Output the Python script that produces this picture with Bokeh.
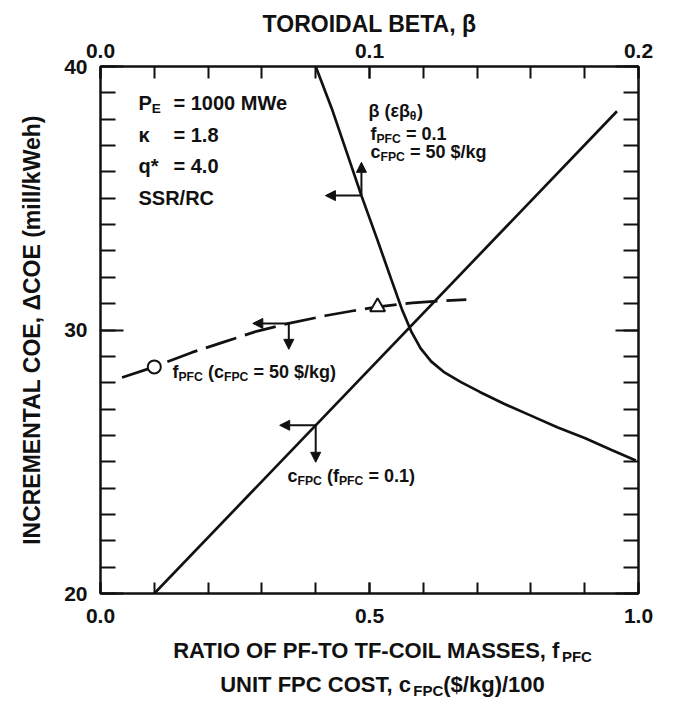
from bokeh.plotting import figure
from bokeh.layouts import column
from bokeh.models import (Range1d, LinearAxis, FixedTicker, Label, Arrow, Title,
                          NormalHead, NumeralTickFormatter)
from bokeh.embed import file_html
from bokeh.resources import INLINE

# ---- data -------------------------------------------------------------
# unit FPC cost c_FPC/100 vs incremental COE (f_PFC = 0.1)
c_fpc = [0.10, 0.96]
coe_c = [20.0, 38.3]

# PF-to-TF coil mass ratio f_PFC vs incremental COE (c_FPC = 50 $/kg)
f_pfc = [0.04, 0.10, 0.17, 0.23, 0.29, 0.35, 0.42, 0.47, 0.515, 0.58, 0.63, 0.68]
coe_f = [28.2, 28.6, 29.15, 29.55, 29.95, 30.25, 30.55, 30.73, 30.88, 31.03, 31.1, 31.15]
circle_idx = 1      # f_PFC = 0.1 reference point
triangle_idx = 8

# toroidal beta vs incremental COE
beta = [0.080, 0.086, 0.091, 0.097, 0.103, 0.108, 0.112, 0.1155, 0.119, 0.123,
        0.128, 0.134, 0.141, 0.150, 0.160, 0.170, 0.180, 0.190, 0.199]
coe_beta = [40.0, 38.4, 36.9, 35.1, 33.4, 31.95, 30.8, 29.95, 29.3, 28.8,
            28.38, 28.02, 27.65, 27.2, 26.75, 26.3, 25.9, 25.45, 25.05]

# arrow anchor indices on each curve
arrow_f_idx = 5
arrow_beta_idx = 3
arrow_c_x = 0.40

# ---- layout -----------------------------------------------------------
W, H = 673, 706
MAIN_H = 634
BOT_STRIP = H - MAIN_H
LEFT, RIGHT, TOP, BOTTOM = 100, 35, 66, 41
FW, FH = W - LEFT - RIGHT, MAIN_H - TOP - BOTTOM
X0, X1, Y0, Y1 = 0.0, 1.0, 20.0, 40.0
PXX = FW / (X1 - X0)          # pixels per x unit
PXY = FH / (Y1 - Y0)          # pixels per y unit
FONT = "Liberation Sans"
INK = "#111111"

p = figure(width=W, height=MAIN_H, x_range=Range1d(X0, X1), y_range=Range1d(Y0, Y1),
           output_backend="svg", toolbar_location=None,
           x_axis_location=None, y_axis_location=None,
           min_border_left=LEFT, min_border_right=RIGHT,
           min_border_top=TOP, min_border_bottom=BOTTOM)
p.extra_x_ranges = {"beta": Range1d(0.0, 0.2)}
p.xgrid.grid_line_color = None
p.ygrid.grid_line_color = None
p.outline_line_color = INK
p.outline_line_width = 2
p.background_fill_color = "white"
p.border_fill_color = "white"


def style_axis(ax, major_in, minor_in, standoff=12):
    ax.axis_line_color = INK
    ax.axis_line_width = 2
    ax.major_tick_in = major_in
    ax.major_tick_out = 0
    ax.minor_tick_in = minor_in
    ax.minor_tick_out = 0
    ax.major_tick_line_width = 2
    ax.minor_tick_line_width = 2
    ax.major_tick_line_color = INK
    ax.minor_tick_line_color = INK
    ax.major_label_text_font = FONT
    ax.major_label_text_font_style = "bold"
    ax.major_label_text_font_size = "21px"
    ax.major_label_text_color = INK
    ax.major_label_standoff = standoff


y_ticks = [20, 30, 40]
y_ticker = FixedTicker(ticks=y_ticks, minor_ticks=list(range(20, 41)))

left = LinearAxis(ticker=y_ticker)
style_axis(left, 23, 15, standoff=13)
left.axis_label = "INCREMENTAL COE, \u0394COE (mill/kWeh)"
left.axis_label_text_font = FONT
left.axis_label_text_font_style = "bold"
left.axis_label_text_font_size = "23px"
left.axis_label_text_color = INK
left.axis_label_standoff = 16
p.add_layout(left, "left")

right = LinearAxis(ticker=y_ticker, major_label_overrides={t: "" for t in y_ticks})
style_axis(right, 23, 15)
p.add_layout(right, "right")

bottom = LinearAxis(ticker=FixedTicker(ticks=[0.0, 0.5, 1.0],
                                       minor_ticks=[i / 10 for i in range(11)]),
                    formatter=NumeralTickFormatter(format="0.0"))
style_axis(bottom, 11, 11, standoff=15)
p.add_layout(bottom, "below")

top = LinearAxis(x_range_name="beta",
                 ticker=FixedTicker(ticks=[0.0, 0.1, 0.2],
                                    minor_ticks=[i / 50 for i in range(11)]),
                 formatter=NumeralTickFormatter(format="0.0"))
style_axis(top, 12, 12, standoff=9)
p.add_layout(top, "above")

p.add_layout(Title(text="TOROIDAL BETA, \u03b2", align="center", offset=6,
                   text_font=FONT, text_font_size="23px", text_font_style="bold",
                   text_color=INK, standoff=8), "above")

# ---- curves -----------------------------------------------------------
LW = 2.7
p.line(c_fpc, coe_c, line_color=INK, line_width=LW)
p.line(beta, coe_beta, line_color=INK, line_width=LW, x_range_name="beta")
p.line(f_pfc[:circle_idx + 1], coe_f[:circle_idx + 1], line_color=INK, line_width=LW)
p.line(f_pfc[circle_idx:], coe_f[circle_idx:], line_color=INK, line_width=LW,
       line_dash="32 9", line_dash_offset=-14)
p.scatter([f_pfc[circle_idx]], [coe_f[circle_idx]], marker="circle", size=13,
          fill_color="white", line_color=INK, line_width=2)
p.scatter([f_pfc[triangle_idx]], [coe_f[triangle_idx]], marker="triangle", size=15,
          fill_color="white", line_color=INK, line_width=2)


# ---- reading arrows ---------------------------------------------------
def arrow(x, y, dx, dy, range_name="default"):
    head = NormalHead(size=10, fill_color=INK, line_color=INK, line_width=1)
    a = Arrow(end=head, x_start=x, y_start=y, x_end=x + dx, y_end=y + dy,
              line_color=INK, line_width=2, x_range_name=range_name)
    p.add_layout(a)


ax_len = 36 / PXX
ay_len = 37 / PXY
c_y = coe_c[0] + (arrow_c_x - c_fpc[0]) * (coe_c[1] - coe_c[0]) / (c_fpc[1] - c_fpc[0])
arrow(arrow_c_x, c_y, -ax_len, 0)
arrow(arrow_c_x, c_y, 0, -ay_len)

fx, fy = f_pfc[arrow_f_idx], coe_f[arrow_f_idx]
arrow(fx, fy, -ax_len, 0)
arrow(fx, fy, 0, -ay_len * 0.7)

bx, by = beta[arrow_beta_idx], coe_beta[arrow_beta_idx]
arrow(bx, by, -ax_len * 0.2, 0, "beta")
arrow(bx, by, 0, ay_len * 0.9, "beta")

# ---- text with subscripts --------------------------------------------
WID = {
    " ": 278, "!": 333, "$": 556, "(": 333, ")": 333, "*": 389, ",": 278,
    "-": 333, ".": 278, "/": 278, "=": 584,
    "A": 722, "B": 722, "C": 722, "D": 722, "E": 667, "F": 611, "G": 778,
    "H": 722, "I": 278, "J": 556, "K": 722, "L": 611, "M": 833, "N": 722,
    "O": 778, "P": 667, "Q": 778, "R": 722, "S": 667, "T": 611, "U": 722,
    "V": 667, "W": 944, "X": 667, "Y": 667, "Z": 611,
    "a": 556, "b": 611, "c": 556, "d": 611, "e": 556, "f": 333, "g": 611,
    "h": 611, "i": 278, "j": 278, "k": 556, "l": 278, "m": 889, "n": 611,
    "o": 611, "p": 611, "q": 611, "r": 389, "s": 556, "t": 333, "u": 611,
    "v": 556, "w": 778, "x": 556, "y": 556, "z": 500,
    "\u03b2": 600, "\u03b5": 480, "\u03b8": 600, "\u03ba": 560, "\u0394": 700,
}
BASE_LIFT = 0.36   # raise runs so the drawn baseline lands on the requested one


def tw(s, size):
    return sum(WID.get(ch, 556) for ch in s) / 1000.0 * size


def rich(fig, x, y, parts, size, sx=1.0, sy=1.0, align="left"):
    """Line of text from (text, kind) runs; kind 'n' normal, 's' subscript.
    sx, sy: pixels per data unit of the target figure (sy < 0 if y grows downward)."""
    sub = 0.68
    sizes = [size if k == "n" else size * sub for _, k in parts]
    widths = [tw(t, s) for (t, _), s in zip(parts, sizes)]
    total = sum(widths)
    cur = x - (total / 2 / sx if align == "center" else 0)
    for (t, k), s, w in zip(parts, sizes, widths):
        lead = len(t) - len(t.lstrip(" "))
        txt = t.strip(" ")
        dy = BASE_LIFT * size + (0 if k == "n" else -0.28 * size)
        if txt:
            fig.add_layout(Label(x=cur + tw(" " * lead, s) / sx, y=y + dy / sy,
                                 text=txt, text_font=FONT, text_font_size=f"{s:.1f}px",
                                 text_font_style="bold", text_color=INK,
                                 text_baseline="alphabetic", text_align="left"))
        cur += w / sx


def px_x(px):
    return X0 + (px - LEFT) / PXX


def px_y(py):
    # py measured from the top of the page
    return Y1 - (py - TOP) / PXY


def main_text(px, py, parts, size):
    rich(p, px_x(px), px_y(py), parts, size, sx=PXX, sy=PXY)


# parameter block
S1 = 20
main_text(138, 110, [("P", "n"), ("E", "s")], S1)
main_text(138, 142, [("\u03ba", "n")], S1)
main_text(138, 173, [("q*", "n")], S1)
main_text(138, 205, [("SSR/RC", "n")], S1)
main_text(173, 110, [("= 1000 MWe", "n")], S1)
main_text(173, 142, [("= 1.8", "n")], S1)
main_text(173, 173, [("= 4.0", "n")], S1)

# beta curve note
S2 = 18
main_text(368, 117, [("\u03b2 (\u03b5\u03b2", "n"), ("\u03b8", "s"), (")", "n")], S2)
main_text(370, 140, [("f", "n"), ("PFC", "s"), (" = 0.1", "n")], S2)
main_text(370, 158, [("c", "n"), ("FPC", "s"), (" = 50 $/kg", "n")], S2)

# curve labels
main_text(172, 378, [("f", "n"), ("PFC", "s"), (" (c", "n"), ("FPC", "s"),
                     (" = 50 $/kg)", "n")], S2)
main_text(287, 482, [("c", "n"), ("FPC", "s"), (" (f", "n"), ("PFC", "s"),
                     (" = 0.1)", "n")], S2)

# ---- two-line x title in a strip under the chart ---------------------
strip = figure(width=W, height=BOT_STRIP,
               x_range=Range1d(LEFT, W - RIGHT), y_range=Range1d(H, MAIN_H),
               output_backend="svg", toolbar_location=None,
               x_axis_location=None, y_axis_location=None,
               min_border_left=LEFT, min_border_right=RIGHT,
               min_border_top=0, min_border_bottom=0)
strip.xgrid.grid_line_color = None
strip.ygrid.grid_line_color = None
strip.outline_line_color = None
strip.background_fill_color = "white"
strip.border_fill_color = "white"

S3 = 22
rich(strip, 382, 658, [("RATIO OF PF-TO TF-COIL MASSES, f", "n"), ("PFC", "s")],
     S3, sx=1, sy=-1, align="center")
rich(strip, 382, 692, [("UNIT FPC COST, c", "n"), ("FPC", "s"), ("($/kg)/100", "n")],
     S3, sx=1, sy=-1, align="center")

layout = column(p, strip, spacing=0)
open("out.html", "w").write(file_html(layout, INLINE))
